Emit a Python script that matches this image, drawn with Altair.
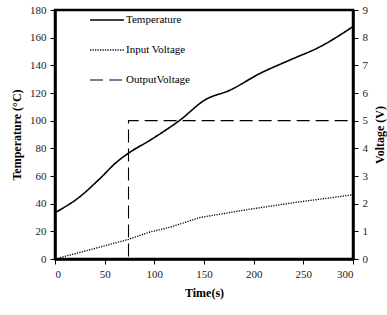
import altair as alt
import pandas as pd

# Time (s) and measured temperature (°C)
temp_time = [0, 25, 45, 62, 74, 96, 126, 151, 176, 206, 237, 267, 300]
temp_vals = [33.5, 45, 58, 70, 76.5, 86, 100.5, 115, 122, 134, 144, 153.5, 168]

# Input voltage (V)
vin_time = [5, 40, 74, 96, 116, 146, 196, 247, 300]
vin_vals = [0.05, 0.38, 0.71, 0.98, 1.15, 1.5, 1.8, 2.07, 2.32]

# Output voltage (V): switches on at ~74 s
vout_time = [0, 74, 74, 300]
vout_vals = [0, 0, 5, 5]

series_names = ["Temperature", "Input Voltage", "OutputVoltage"]

temp_df = pd.DataFrame({"t": temp_time, "v": temp_vals, "s": series_names[0],
                        "o": list(range(len(temp_time)))})
vin_df = pd.DataFrame({"t": vin_time, "v": vin_vals, "s": series_names[1],
                       "o": list(range(len(vin_time)))})
vout_df = pd.DataFrame({"t": vout_time, "v": vout_vals, "s": series_names[2],
                        "o": list(range(len(vout_time)))})
volt_df = pd.concat([vin_df, vout_df], ignore_index=True)

FONT = "Liberation Serif"

x_enc = alt.X("t:Q", scale=alt.Scale(domain=[0, 300], nice=False),
              axis=alt.Axis(values=[0, 50, 100, 150, 200, 250, 300], title="Time(s)",
                            grid=False))

legend_spec = alt.Legend(title=None, orient="none", legendX=34, legendY=-8,
                         symbolType="stroke", symbolSize=1150,
                         symbolStrokeColor="black", labelFont=FONT,
                         labelFontSize=11, labelColor="black",
                         rowPadding=7, labelOffset=1)

dash = alt.StrokeDash("s:N", scale=alt.Scale(domain=series_names,
                                             range=[[1, 0], [1.2, 1.3], [13, 6]]),
                      legend=legend_spec)
width_enc = alt.StrokeWidth("s:N", scale=alt.Scale(domain=series_names, range=[1.6, 1.1, 2.6]),
                            legend=legend_spec)

temp_line = alt.Chart(temp_df).mark_line(color="black", interpolate="monotone").encode(
    x=x_enc,
    y=alt.Y("v:Q", scale=alt.Scale(domain=[0, 180], nice=False),
            axis=alt.Axis(values=list(range(0, 181, 20)), title="Temperature (°C)",
                          orient="left", grid=False, titlePadding=6)),
    order="o:Q",
    strokeDash=dash,
    strokeWidth=width_enc,
)

volt_lines = alt.Chart(volt_df).mark_line(color="black").encode(
    x=x_enc,
    y=alt.Y("v:Q", scale=alt.Scale(domain=[0, 9], nice=False),
            axis=alt.Axis(values=list(range(0, 10)), title="Voltage (V)", orient="right",
                          grid=False, titleAngle=270, titlePadding=19)),
    order="o:Q",
    detail="s:N",
    strokeDash=dash,
    strokeWidth=width_enc,
)

chart = alt.layer(temp_line, volt_lines).resolve_scale(y="independent").properties(
    width=298, height=249,
    autosize=alt.AutoSizeParams(type="none"),
    padding={"left": 55, "top": 10, "right": 34, "bottom": 56},
    background="white",
).configure_view(
    stroke="black", strokeWidth=2.5
).configure_axis(
    domainColor="black", domainWidth=2.5, tickColor="black", tickSize=5, tickWidth=1,
    labelFont=FONT, labelFontSize=11, labelColor="#222222", labelPadding=4,
    titleFont=FONT, titleFontSize=12, titleFontWeight="bold", titleColor="black",
).configure_axisX(titlePadding=8)

chart.save("out.html", embed_options={"renderer": "svg", "actions": False})
